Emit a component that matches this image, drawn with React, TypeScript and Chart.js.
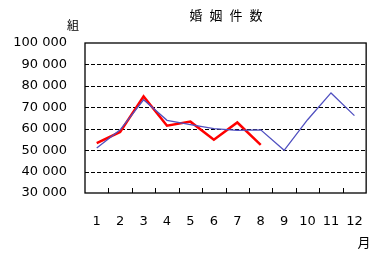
import React, { useEffect, useRef } from "react";
import { Chart, registerables } from "chart.js";

Chart.register(...registerables);

const months = ["1", "2", "3", "4", "5", "6", "7", "8", "9", "10", "11", "12"];
const blueSeries = [51000, 59500, 73500, 63900, 61900, 60000, 59200, 59500, 49900, 64200, 76700, 66100];
const redSeries = [53300, 58500, 75100, 61400, 63300, 54900, 62900, 52500];
const gridValues = [40000, 50000, 60000, 70000, 80000, 90000];
const titleChars = ["婚", "姻", "件", "数"];
const yUnit = "組";
const xUnit = "月";

const fmt = (v: number) => {
  const s = String(Math.round(v));
  return s.replace(/\B(?=(\d{3})+(?!\d))/g, " ");
};

const decorPlugin = {
  id: "decor",
  beforeDatasetsDraw(chart: any) {
    const ctx = chart.ctx;
    const area = chart.chartArea;
    const y = chart.scales.y;
    ctx.save();
    ctx.strokeStyle = "#000";
    ctx.lineWidth = 1;
    ctx.setLineDash([4, 2]);
    ctx.beginPath();
    gridValues.forEach((v) => {
      const py = Math.round(y.getPixelForValue(v)) + 0.5;
      ctx.moveTo(area.left, py);
      ctx.lineTo(area.right, py);
    });
    ctx.stroke();
    ctx.restore();
  },
  afterDraw(chart: any) {
    const ctx = chart.ctx;
    const area = chart.chartArea;
    const x = chart.scales.x;
    ctx.save();
    ctx.strokeStyle = "#000";
    ctx.lineWidth = 1;
    ctx.beginPath();
    for (let i = 1; i < months.length; i++) {
      const px = Math.round((x.getPixelForValue(i - 1) + x.getPixelForValue(i)) / 2) + 0.5;
      ctx.moveTo(px, area.bottom);
      ctx.lineTo(px, area.bottom - 5);
    }
    ctx.stroke();
    ctx.lineWidth = 1.3;
    ctx.strokeRect(area.left, area.top, area.right - area.left, area.bottom - area.top);
    ctx.fillStyle = "#000";
    ctx.textAlign = "center";
    ctx.textBaseline = "middle";
    ctx.font = "13px 'Noto Sans CJK JP'";
    titleChars.forEach((c, i) => ctx.fillText(c, 196 + i * 20, 15));
    ctx.font = "12px 'Noto Sans CJK JP'";
    ctx.fillText(yUnit, 73, 25);
    ctx.font = "13px 'Noto Sans CJK JP'";
    ctx.fillText(xUnit, 364, 242);
    ctx.restore();
  },
};

export default function App() {
  const ref = useRef<HTMLCanvasElement>(null);
  useEffect(() => {
    const chart = new Chart(ref.current!, {
      type: "line",
      data: {
        labels: months,
        datasets: [
          {
            data: blueSeries,
            borderColor: "#5050c0",
            borderWidth: 1.3,
            pointRadius: 0,
            tension: 0,
          },
          {
            data: redSeries,
            borderColor: "#ff0000",
            borderWidth: 2.5,
            pointRadius: 0,
            tension: 0,
          },
        ],
      },
      plugins: [decorPlugin],
      options: {
        animation: false,
        responsive: false,
        events: [],
        layout: { padding: { top: 43, right: 7, left: 0, bottom: 0 } },
        plugins: { legend: { display: false }, tooltip: { enabled: false }, title: { display: false } },
        scales: {
          x: {
            offset: true,
            grid: { display: false, drawTicks: false },
            border: { display: false },
            ticks: {
              color: "#000",
              font: { family: "'DejaVu Sans'", size: 13 },
              padding: 21,
              maxRotation: 0,
              autoSkip: false,
            },
            afterFit: (s: any) => {
              s.height = 87;
            },
          },
          y: {
            min: 30000,
            max: 100000,
            grid: { display: false, drawTicks: false },
            border: { display: false },
            ticks: {
              stepSize: 10000,
              color: "#000",
              font: { family: "'DejaVu Sans'", size: 13 },
              padding: 18,
              callback: (v: any) => fmt(Number(v)),
            },
            afterFit: (s: any) => {
              s.width = 85;
            },
          },
        },
      },
    });
    return () => chart.destroy();
  }, []);
  return (
    <div style={{ position: "fixed", left: 0, top: 0, width: 384, height: 280, background: "#fff" }}>
      <canvas ref={ref} width={384} height={280} style={{ width: 384, height: 280 }} />
    </div>
  );
}
